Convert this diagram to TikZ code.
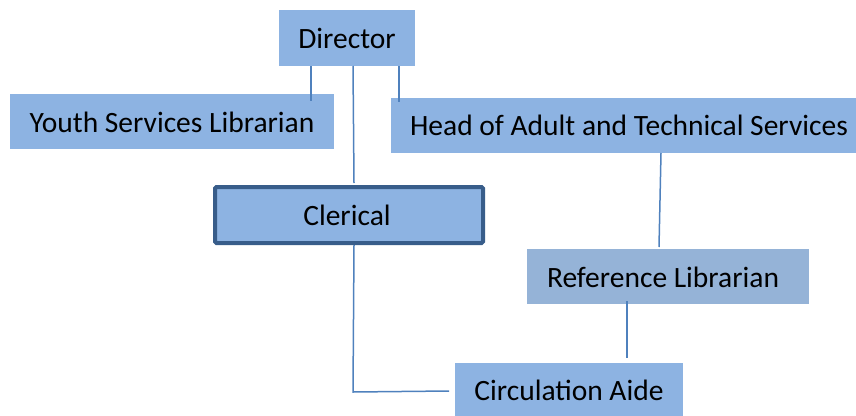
\documentclass[tikz,border=0pt]{standalone}
\usepackage{fontspec}
\setmainfont{Carlito}
\definecolor{boxfill}{HTML}{8DB3E2}
\definecolor{reffill}{HTML}{95B3D7}
\definecolor{linecol}{HTML}{4F81BD}
\definecolor{darkedge}{HTML}{385D8A}
\tikzset{
  box/.style={fill=boxfill, draw=none, inner sep=0pt, anchor=north west},
  lbl/.style={inner sep=0pt, anchor=base, font=\fontsize{29.5}{34}\selectfont},
  conn/.style={draw=linecol, line width=1.5pt}
}
\begin{document}
\begin{tikzpicture}[x=1pt,y=-1pt]
\useasboundingbox (0,0) rectangle (856,415);
% boxes
\node[box, minimum width=136pt, minimum height=56pt] (director) at (279,10) {};
\node[box, minimum width=324pt, minimum height=55pt] (youth) at (10,94) {};
\node[box, minimum width=470pt, minimum height=55pt] (head) at (391,98) {};
\node[box, fill=reffill, minimum width=282pt, minimum height=55pt] (ref) at (527,249) {};
\node[box, minimum width=228pt, minimum height=60pt] (circ) at (455,363) {};
\node[box, draw=darkedge, line width=4pt, rounded corners=1.5pt, minimum width=268pt, minimum height=56pt] (clerical) at (213,185) {};
% labels
\node[lbl] (tdirector) at (347,48) {Director};
\node[lbl] (tyouth) at (172,132) {Youth Services Librarian};
\node[lbl] (thead) at (629,135) {Head of Adult and Technical Services};
\node[lbl] (tclerical) at (347,225) {Clerical};
\node[lbl] (tref) at (663,287) {Reference Librarian};
\node[lbl] (tcirc) at (569,400) {Circulation Aide};
% connector ends
\coordinate (y1) at (311,101);
\coordinate (h1) at (399,102);
\coordinate (d1) at (353,66);
\coordinate (k1) at (354,183);
\coordinate (k2) at (354,245);
\coordinate (bend) at (353,392);
\coordinate (c1) at (449,391);
\coordinate (hr1) at (661,153);
\coordinate (hr2) at (659,247);
\coordinate (rc1) at (627,301);
\coordinate (rc2) at (627,358);
% connectors
\draw[conn] (director.south -| y1) -- (y1);
\draw[conn] (director.south -| h1) -- (h1);
\draw[conn] (d1) -- (k1);
\draw[conn] (k2) -- (bend) -- (c1);
\draw[conn] (hr1) -- (hr2);
\draw[conn] (rc1) -- (rc2);
\end{tikzpicture}
\end{document}
